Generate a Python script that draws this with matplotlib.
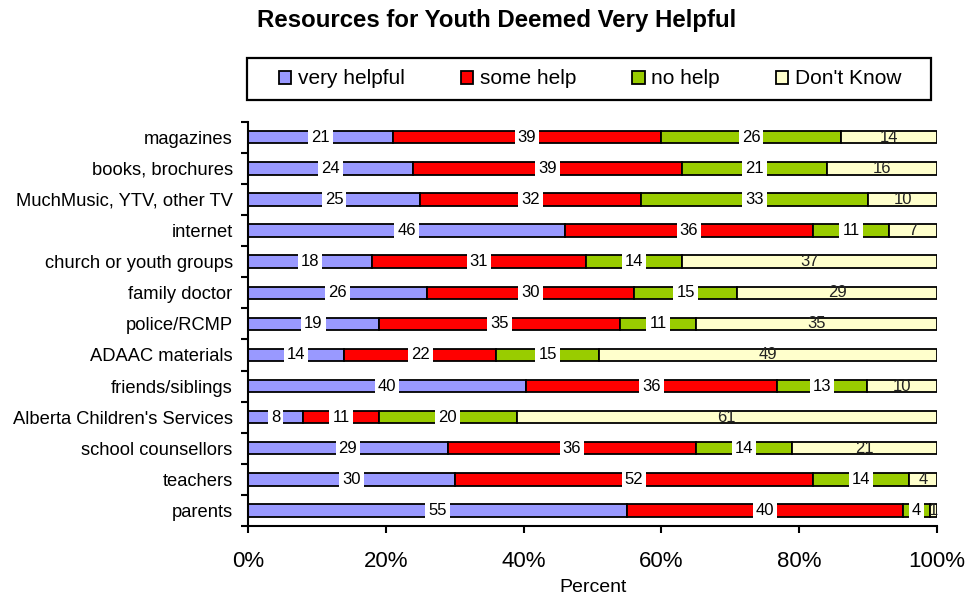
import numpy as np
import matplotlib
matplotlib.use('Agg')
import matplotlib.pyplot as plt
from matplotlib.patches import Patch, Rectangle

plt.rcParams['font.family'] = ['Liberation Sans', 'DejaVu Sans']

# Donnees : reponses des jeunes par ressource (haut -> bas)
resources = ['magazines', 'books, brochures', 'MuchMusic, YTV, other TV', 'internet',
             'church or youth groups', 'family doctor', 'police/RCMP', 'ADAAC materials',
             'friends/siblings', "Alberta Children's Services", 'school counsellors',
             'teachers', 'parents']
very_helpful = [21, 24, 25, 46, 18, 26, 19, 14, 40, 8, 29, 30, 55]
some_help = [39, 39, 32, 36, 31, 30, 35, 22, 36, 11, 36, 52, 40]
no_help = [26, 21, 33, 11, 14, 15, 11, 15, 13, 20, 14, 14, 4]
dont_know = [14, 16, 10, 7, 37, 29, 35, 49, 10, 61, 21, 4, 1]

series = ['very helpful', 'some help', 'no help', "Don't Know"]
colors = ['#9999FF', '#FF0000', '#99CC00', '#FFFFCC']

raw = np.array([very_helpful, some_help, no_help, dont_know], dtype=float)
pct = raw / raw.sum(axis=0) * 100  # empile a 100 %

fig = plt.figure(figsize=(9.69, 5.98), dpi=100)
ax = fig.add_axes([248/969, 72/598, 689/969, 404.3/598])

y = np.arange(len(resources))
left = np.zeros(len(resources))
for i, (name, col) in enumerate(zip(series, colors)):
    ax.barh(y, pct[i], left=left, height=0.4, color=col, edgecolor='black',
            linewidth=1.3, zorder=2)
    for j in range(len(resources)):
        xc = left[j] + pct[i][j] / 2
        if i < 3:
            ax.text(xc, y[j], f'{int(raw[i][j])}', ha='center', va='center',
                    fontsize=12, zorder=4,
                    bbox=dict(facecolor='white', edgecolor='none', pad=2.2))
        else:
            ax.text(xc, y[j], f'{int(raw[i][j])}', ha='center', va='center',
                    fontsize=12, color='#222222', zorder=4)
    left += pct[i]

ax.set_xlim(0, 100)
ax.set_ylim(len(resources) - 0.5, -0.5)
ax.set_xticks(np.arange(0, 101, 20))
ax.set_xticklabels([f'{v}%' for v in range(0, 101, 20)], fontsize=16)
ax.set_yticks(y)
ax.set_yticklabels(resources, fontsize=13.2)
ax.set_yticks(np.arange(-0.5, len(resources), 1), minor=True)
ax.tick_params(axis='y', which='major', length=0, pad=11)
ax.tick_params(axis='y', which='minor', length=5, width=1.5, direction='out')
ax.tick_params(axis='x', length=5, width=1.5, direction='out', pad=13)
for s in ['top', 'right']:
    ax.spines[s].set_visible(False)
for s in ['left', 'bottom']:
    ax.spines[s].set_linewidth(1.5)

fig.text(593/969, 1 - 588/598, 'Percent', ha='center', va='center', fontsize=14)
fig.text(497/969, 1 - 20/598, 'Resources for Youth Deemed Very Helpful',
         ha='center', va='center', fontsize=17.3, fontweight='bold')

# Cadre de la legende
fig.patches.append(Rectangle((247/969, 1 - 100/598), 684/969, 42/598,
                             transform=fig.transFigure, facecolor='white',
                             edgecolor='black', linewidth=1.6, zorder=0))
handles = [Patch(facecolor=c, edgecolor='black', linewidth=1.3) for c in colors]
fig.legend(handles, series, loc='center', ncol=4, frameon=False,
           bbox_to_anchor=(590/969, 1 - 79/598), fontsize=15,
           handlelength=0.6, handleheight=0.6, handletextpad=0.3,
           columnspacing=2.7, borderpad=0)

fig.savefig('out.png', dpi=100)
